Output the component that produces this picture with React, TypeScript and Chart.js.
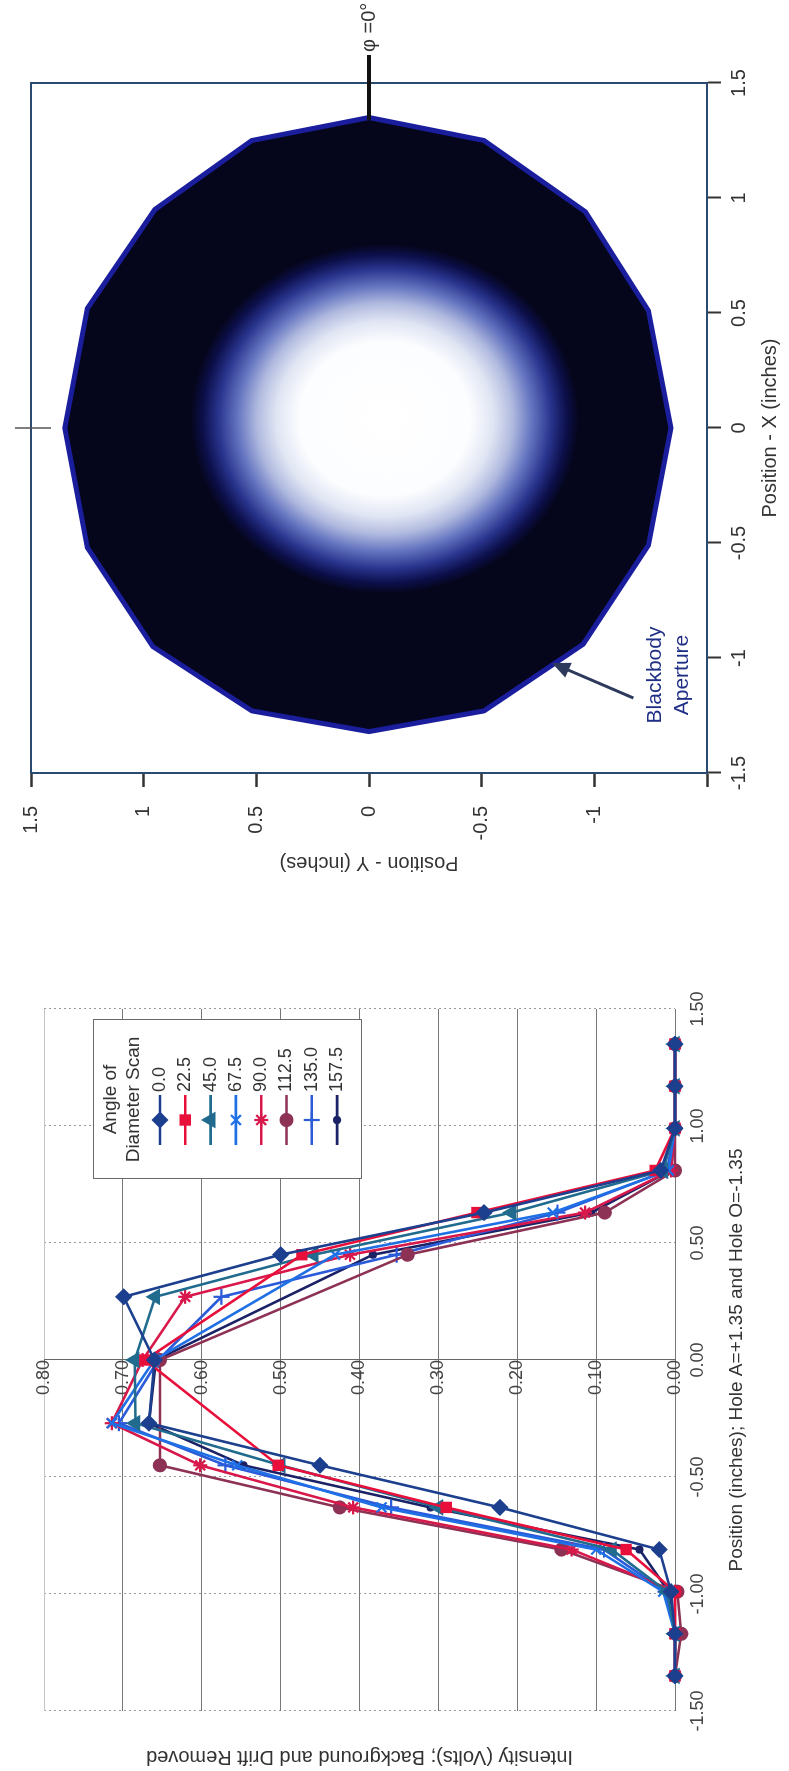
import React, { useEffect, useRef } from 'react';
import { Chart, registerables } from 'chart.js';
import { drawPoint } from 'chart.js/helpers';

Chart.register(...registerables);

// ---------------- Line chart data (diameter scans) ----------------
const POSITIONS = [-1.35, -1.17, -0.99, -0.81, -0.63, -0.45, -0.27, 0, 0.27, 0.45, 0.63, 0.81, 0.99, 1.17, 1.35];
const SCAN_ANGLES = ['0.0', '22.5', '45.0', '67.5', '90.0', '112.5', '135.0', '157.5'];
const SCAN_0_0 = [0, 0, 0.005, 0.02, 0.222, 0.45, 0.667, 0.66, 0.699, 0.5, 0.242, 0.018, 0, 0, 0];
const SCAN_22_5 = [0, 0, 0, 0.062, 0.29, 0.503, null, 0.672, null, 0.473, 0.251, 0.025, 0, 0, 0];
const SCAN_45_0 = [0, 0, 0.01, 0.08, 0.3, 0.5, 0.684, 0.685, 0.659, 0.458, 0.207, 0.015, 0, 0, 0];
const SCAN_67_5 = [0, 0, 0.015, 0.1, 0.372, 0.555, 0.714, 0.66, null, 0.431, 0.155, 0.008, 0, 0, 0];
const SCAN_90_0 = [0, 0, 0, 0.131, 0.408, 0.602, 0.714, 0.675, 0.621, 0.412, 0.114, 0.005, 0, 0, 0];
const SCAN_112_5 = [0, -0.008, -0.003, 0.144, 0.425, 0.653, null, 0.653, null, 0.339, 0.089, 0, 0, 0, 0];
const SCAN_135_0 = [0, 0, 0.012, 0.09, 0.36, 0.57, 0.705, 0.655, 0.575, 0.353, 0.149, 0.01, 0, 0, 0];
const SCAN_157_5 = [0, 0, 0.008, 0.045, 0.31, 0.547, 0.667, 0.658, null, 0.383, 0.106, 0.005, 0, 0, 0];
const SCANS = [SCAN_0_0, SCAN_22_5, SCAN_45_0, SCAN_67_5, SCAN_90_0, SCAN_112_5, SCAN_135_0, SCAN_157_5];

const LINE_X_TITLE = 'Position (inches); Hole A=+1.35 and Hole O=-1.35';
const LINE_Y_TITLE = 'Intensity (Volts); Background and Drift Removed';
const LEGEND_TITLE = ['Angle of', 'Diameter Scan'];

// ---------------- Contour chart data ----------------
const APERTURE_X = [1.35, 1.25, 0.95, 0.52, 0, -0.52, -0.95, -1.23, -1.32, -1.23, -0.94, -0.51, 0, 0.51, 0.94, 1.25, 1.35];
const APERTURE_Y = [0, 0.52, 0.95, 1.25, 1.35, 1.25, 0.96, 0.52, 0, -0.51, -0.95, -1.24, -1.34, -1.24, -0.96, -0.51, 0];
const HOTSPOT_X = 0.04;
const HOTSPOT_Y = -0.07;
const HOT_RX = 0.76;
const HOT_RY = 0.86;

const FONT = "'Liberation Sans', Arial, Helvetica, sans-serif";

const SERIES_STYLE = [
  { color: '#1c3f8e', point: 'rectRot', radius: 7 },
  { color: '#e8103a', point: 'rect', radius: 6.5 },
  { color: '#216b8f', point: 'triangle', radius: 7.5 },
  { color: '#1f6fe5', point: 'crossRot', radius: 7 },
  { color: '#d8184a', point: 'star', radius: 7 },
  { color: '#8d3255', point: 'circle', radius: 6 },
  { color: '#2b5bd9', point: 'cross', radius: 8 },
  { color: '#1b2266', point: 'circle', radius: 3 },
];

const legendPlugin = {
  id: 'scanLegend',
  afterDraw(chart: any) {
    const { ctx, chartArea: a } = chart;
    const bx = a.right - 170;
    const by = a.top + 49;
    const bw = 159;
    const bh = 268;
    ctx.save();
    ctx.fillStyle = '#ffffff';
    ctx.fillRect(bx, by, bw, bh);
    ctx.strokeStyle = '#6a6a6a';
    ctx.lineWidth = 1;
    ctx.strokeRect(bx + 0.5, by + 0.5, bw, bh);
    ctx.fillStyle = '#333';
    ctx.font = `19px ${FONT}`;
    ctx.textAlign = 'center';
    ctx.textBaseline = 'middle';
    ctx.fillText(LEGEND_TITLE[0], bx + bw / 2, by + 18);
    ctx.fillText(LEGEND_TITLE[1], bx + bw / 2, by + 41);
    ctx.font = `18px ${FONT}`;
    ctx.textAlign = 'left';
    chart.data.datasets.forEach((ds: any, i: number) => {
      const yy = by + 67 + i * 25.3;
      const lx0 = bx + 34;
      const lx1 = bx + 84;
      ctx.strokeStyle = ds.borderColor;
      ctx.lineWidth = ds.borderWidth;
      ctx.beginPath();
      ctx.moveTo(lx0, yy);
      ctx.lineTo(lx1, yy);
      ctx.stroke();
      ctx.fillStyle = ds.pointBackgroundColor;
      ctx.strokeStyle = ds.pointBorderColor;
      ctx.lineWidth = ds.pointBorderWidth;
      drawPoint(ctx, { pointStyle: ds.pointStyle, radius: ds.pointRadius, borderWidth: ds.pointBorderWidth, rotation: 0 }, (lx0 + lx1) / 2, yy);
      ctx.fillStyle = '#333';
      ctx.fillText(ds.label, lx1 + 3, yy);
    });
    ctx.restore();
  },
};

const contourPlugin = {
  id: 'contour',
  beforeDatasetsDraw(chart: any) {
    const { ctx, chartArea: a, scales } = chart;
    const sx = scales.x;
    const sy = scales.y;
    ctx.save();
    ctx.beginPath();
    APERTURE_X.forEach((vx, i) => {
      const px = sx.getPixelForValue(vx);
      const py = sy.getPixelForValue(APERTURE_Y[i]);
      if (i === 0) ctx.moveTo(px, py);
      else ctx.lineTo(px, py);
    });
    ctx.closePath();
    ctx.clip();
    ctx.fillStyle = '#05061c';
    ctx.fillRect(a.left, a.top, a.right - a.left, a.bottom - a.top);
    const cx = sx.getPixelForValue(HOTSPOT_X);
    const cy = sy.getPixelForValue(HOTSPOT_Y);
    const rx = Math.abs(sx.getPixelForValue(HOTSPOT_X + HOT_RX) - cx);
    const ry = Math.abs(sy.getPixelForValue(HOTSPOT_Y + HOT_RY) - cy);
    ctx.translate(cx, cy);
    ctx.scale(rx, ry);
    const g = ctx.createRadialGradient(0, 0, 0, 0, 0, 1);
    g.addColorStop(0, '#ffffff');
    g.addColorStop(0.44, '#fcfdff');
    g.addColorStop(0.56, '#e0e5f3');
    g.addColorStop(0.66, '#b0badf');
    g.addColorStop(0.76, '#6474c0');
    g.addColorStop(0.86, '#28338c');
    g.addColorStop(0.94, '#0c0f4a');
    g.addColorStop(1, '#05061c');
    ctx.fillStyle = g;
    ctx.fillRect(-1.05, -1.05, 2.1, 2.1);
    ctx.restore();
  },
  afterDraw(chart: any) {
    const { ctx, chartArea: a, scales } = chart;
    const sx = scales.x;
    const sy = scales.y;
    ctx.save();
    ctx.strokeStyle = '#2b4a72';
    ctx.lineWidth = 2;
    ctx.strokeRect(a.left, a.top, a.right - a.left, a.bottom - a.top);
    // reference mark at X = 0 on the top edge
    const x0 = sx.getPixelForValue(0);
    ctx.strokeStyle = '#555';
    ctx.lineWidth = 1.5;
    ctx.beginPath();
    ctx.moveTo(x0, a.top - 16);
    ctx.lineTo(x0, a.top + 20);
    ctx.stroke();
    // phi = 0 marker
    const y0 = sy.getPixelForValue(0);
    ctx.strokeStyle = '#111';
    ctx.lineWidth = 4;
    ctx.beginPath();
    ctx.moveTo(sx.getPixelForValue(1.34), y0);
    ctx.lineTo(a.right + 28, y0);
    ctx.stroke();
    ctx.fillStyle = '#333';
    ctx.font = `20px ${FONT}`;
    ctx.textAlign = 'left';
    ctx.textBaseline = 'middle';
    ctx.fillText('φ =0°', a.right + 31, y0);
    // Blackbody aperture annotation
    const ax0 = sx.getPixelForValue(-1.174);
    const ay0 = sy.getPixelForValue(-1.173);
    const ax1 = sx.getPixelForValue(-1.022);
    const ay1 = sy.getPixelForValue(-0.812);
    const ang = Math.atan2(ay1 - ay0, ax1 - ax0);
    ctx.strokeStyle = '#2d3a5c';
    ctx.fillStyle = '#2d3a5c';
    ctx.lineWidth = 3;
    ctx.beginPath();
    ctx.moveTo(ax0, ay0);
    ctx.lineTo(ax1 - 12 * Math.cos(ang), ay1 - 12 * Math.sin(ang));
    ctx.stroke();
    ctx.beginPath();
    ctx.moveTo(ax1, ay1);
    ctx.lineTo(ax1 - 18 * Math.cos(ang) + 8 * Math.sin(ang), ay1 - 18 * Math.sin(ang) - 8 * Math.cos(ang));
    ctx.lineTo(ax1 - 18 * Math.cos(ang) - 8 * Math.sin(ang), ay1 - 18 * Math.sin(ang) + 8 * Math.cos(ang));
    ctx.closePath();
    ctx.fill();
    ctx.fillStyle = '#1f2f85';
    ctx.font = `21px ${FONT}`;
    ctx.textAlign = 'center';
    const tx = sx.getPixelForValue(-1.074);
    ctx.fillText('Blackbody', tx, sy.getPixelForValue(-1.269));
    ctx.fillText('Aperture', tx, sy.getPixelForValue(-1.39));
    ctx.restore();
  },
};

const fmt2 = (v: any) => Number(v).toFixed(2);
const fmt1 = (v: any) => String(Math.round(Number(v) * 10) / 10);

export default function App() {
  const lineRef = useRef<HTMLCanvasElement | null>(null);
  const contourRef = useRef<HTMLCanvasElement | null>(null);

  useEffect(() => {
    const datasets = SCANS.map((vals, i) => {
      const st = SERIES_STYLE[i];
      const pts: { x: number; y: number }[] = [];
      POSITIONS.forEach((p, j) => {
        const v = vals[j];
        if (v !== null && v !== undefined) pts.push({ x: p, y: v });
      });
      return {
        label: SCAN_ANGLES[i],
        data: pts,
        showLine: true,
        borderColor: st.color,
        backgroundColor: st.color,
        pointBackgroundColor: st.color,
        pointBorderColor: st.color,
        pointStyle: st.point,
        pointRadius: st.radius,
        pointBorderWidth: 2.2,
        borderWidth: 2.6,
        tension: 0,
        clip: false,
      };
    });

    const lineChart = new Chart(lineRef.current as HTMLCanvasElement, {
      type: 'scatter',
      data: { datasets } as any,
      options: {
        animation: false,
        responsive: false,
        devicePixelRatio: 1,
        layout: { padding: { top: 44, right: 118, left: 0, bottom: 0 } },
        plugins: { legend: { display: false }, tooltip: { enabled: false } },
        scales: {
          x: {
            type: 'linear',
            position: 'bottom',
            min: -1.5,
            max: 1.5,
            ticks: { stepSize: 0.5, callback: fmt2, font: { family: FONT, size: 18 }, color: '#444', padding: 12, maxRotation: 0, autoSkip: false },
            grid: { color: '#9a9a9a', lineWidth: 1, drawTicks: false },
            border: { display: false, dash: [2, 3] },
            title: { display: true, text: LINE_X_TITLE, font: { family: FONT, size: 19 }, color: '#333', padding: { top: 4, bottom: 41 } },
            afterFit: (s: any) => { s.height = 114; },
          },
          y: {
            type: 'linear',
            position: 'left',
            min: 0,
            max: 0.8,
            ticks: { display: false, stepSize: 0.1 },
            grid: {
              color: (c: any) => (c.tick && c.tick.value >= 0.79 ? '#c4c4c4' : '#777777'),
              lineWidth: 1,
              drawTicks: false,
            },
            border: { display: false },
            title: { display: true, text: LINE_Y_TITLE, font: { family: FONT, size: 20 }, color: '#333', padding: { top: 2, bottom: 0 } },
            afterFit: (s: any) => { s.width = 60; },
          },
          y2: {
            type: 'linear',
            position: { x: 0 },
            min: 0,
            max: 0.8,
            ticks: { stepSize: 0.1, callback: fmt2, font: { family: FONT, size: 18 }, color: '#444', padding: 9 },
            grid: { display: true, drawOnChartArea: false, tickLength: 5, color: '#666' },
            border: { display: true, color: '#666', width: 1 },
          },
        } as any,
      },
      plugins: [legendPlugin],
    });

    const polygon = APERTURE_X.map((vx, i) => ({ x: vx, y: APERTURE_Y[i] }));
    const contourChart = new Chart(contourRef.current as HTMLCanvasElement, {
      type: 'scatter',
      data: {
        datasets: [
          {
            label: 'Blackbody Aperture',
            data: polygon,
            showLine: true,
            borderColor: '#1b1e9c',
            borderWidth: 5,
            pointRadius: 0,
            fill: false,
            tension: 0,
          },
        ],
      } as any,
      options: {
        animation: false,
        responsive: false,
        devicePixelRatio: 1,
        layout: { padding: { top: 18, right: 83, left: 0, bottom: 0 } },
        plugins: { legend: { display: false }, tooltip: { enabled: false } },
        scales: {
          x: {
            type: 'linear',
            position: 'bottom',
            min: -1.5,
            max: 1.5,
            ticks: { stepSize: 0.5, callback: fmt1, font: { family: FONT, size: 20 }, color: '#333', padding: 6, maxRotation: 0, autoSkip: false },
            grid: { drawOnChartArea: false, drawTicks: true, tickLength: 14, tickWidth: 2, tickColor: '#333' },
            border: { display: true, color: '#2b4a72', width: 2 },
            title: { display: true, text: 'Position - X (inches)', font: { family: FONT, size: 20 }, color: '#333', padding: { top: 2, bottom: 7 } },
            afterFit: (s: any) => { s.height = 82; },
          },
          y: {
            type: 'linear',
            position: 'left',
            min: -1.5,
            max: 1.5,
            ticks: { stepSize: 0.5, callback: (v: any) => (Number(v) === -1.5 ? '' : fmt1(v)), font: { family: FONT, size: 20 }, color: '#333', padding: 19, autoSkip: false },
            grid: { drawOnChartArea: false, drawTicks: true, tickLength: 14, tickWidth: 2.5, tickColor: '#333' },
            border: { display: true, color: '#2b4a72', width: 2 },
            title: { display: true, text: 'Position - Y (inches)', font: { family: FONT, size: 20 }, color: '#333', padding: { top: 16, bottom: 0 } },
            afterFit: (s: any) => { s.width = 118; },
          },
        } as any,
      },
      plugins: [contourPlugin],
    });

    return () => {
      lineChart.destroy();
      contourChart.destroy();
    };
  }, []);

  return (
    <div
      style={{
        position: 'absolute',
        left: 0,
        top: 0,
        width: 1771,
        height: 789,
        background: '#ffffff',
        transformOrigin: '0 0',
        transform: 'translate(0px, 1771px) rotate(-90deg)',
      }}
    >
      <canvas ref={lineRef} width={880} height={789} style={{ position: 'absolute', left: 0, top: 0, width: 880, height: 789 }} />
      <canvas ref={contourRef} width={891} height={789} style={{ position: 'absolute', left: 880, top: 0, width: 891, height: 789 }} />
    </div>
  );
}
